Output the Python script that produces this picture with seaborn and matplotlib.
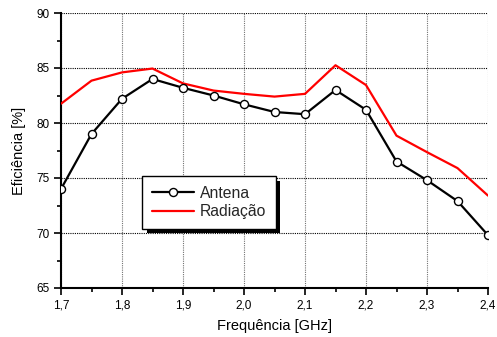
import numpy as np
import pandas as pd
import matplotlib
matplotlib.use("Agg")
import matplotlib.pyplot as plt
from matplotlib.ticker import MultipleLocator, FuncFormatter
from matplotlib.patches import Rectangle
import seaborn as sns

# Frequency sweep (GHz) and measured efficiencies (%)
freq = [1.70, 1.75, 1.80, 1.85, 1.90, 1.95, 2.00, 2.05, 2.10, 2.15, 2.20, 2.25, 2.30, 2.35, 2.40]
antena = [74.0, 79.0, 82.2, 84.0, 83.2, 82.5, 81.7, 81.0, 80.8, 83.0, 81.2, 76.5, 74.8, 72.9, 69.8]
radiacao = [81.75, 83.85, 84.6, 84.95, 83.6, 82.95, 82.65, 82.4, 82.65, 85.25, 83.45, 78.85, 77.35, 75.9, 73.4]

sns.set_theme(style="white")
plt.rcParams["font.family"] = ["Liberation Sans", "DejaVu Sans"]

fig = plt.figure(figsize=(4.97, 3.37), dpi=100)
ax = fig.add_axes([61 / 497, 1 - 288 / 337, (488 - 61) / 497, (288 - 13) / 337])

df = pd.DataFrame({"freq": freq, "Antena": antena, "Radiação": radiacao})

sns.lineplot(data=df, x="freq", y="Radiação", ax=ax, color="#ff0000",
             linewidth=1.6, label="Radiação", zorder=3)
sns.lineplot(data=df, x="freq", y="Antena", ax=ax, color="black",
             linewidth=1.6, marker="o", markersize=5.8, markerfacecolor="white",
             markeredgecolor="black", markeredgewidth=1.0, label="Antena", zorder=4)

ax.set_xlim(1.7, 2.4)
ax.set_ylim(65, 90)
ax.xaxis.set_major_locator(MultipleLocator(0.1))
ax.xaxis.set_minor_locator(MultipleLocator(0.05))
ax.yaxis.set_major_locator(MultipleLocator(5))
ax.yaxis.set_minor_locator(MultipleLocator(2.5))
ax.xaxis.set_major_formatter(FuncFormatter(lambda v, p: f"{v:.1f}".replace(".", ",")))
ax.yaxis.set_major_formatter(FuncFormatter(lambda v, p: f"{v:.0f}"))

ax.tick_params(axis="both", which="major", direction="out", length=5, width=1.2,
               color="black", labelsize=8.5, labelcolor="black", pad=3,
               bottom=True, left=True)
ax.tick_params(axis="both", which="minor", direction="out", length=3, width=1.2,
               color="black", bottom=True, left=True)

ax.grid(False)
ax.yaxis.grid(True, which="major", color="black", linestyle=(0, (1, 1)), linewidth=0.8)
ax.xaxis.grid(True, which="major", color="0.45", linestyle=(0, (1, 1)), linewidth=0.8)
ax.set_axisbelow(True)

for side in ("top", "right"):
    ax.spines[side].set_visible(False)
for side in ("left", "bottom"):
    ax.spines[side].set_color("black")
    ax.spines[side].set_linewidth(1.5)
ax.set_facecolor("white")

ax.set_xlabel("Frequência [GHz]", fontsize=10.5, color="black", labelpad=6)
ax.set_ylabel("Eficiência [%]", fontsize=10.5, color="black", labelpad=8)

handles, labels = ax.get_legend_handles_labels()
order = [labels.index("Antena"), labels.index("Radiação")]
leg = ax.legend([handles[i] for i in order], [labels[i] for i in order],
                loc="upper left", bbox_to_anchor=(142 / 497, 1 - 176 / 337),
                bbox_transform=fig.transFigure, prop={"size": 11.3}, frameon=True,
                fancybox=False, shadow=False,
                edgecolor="black", framealpha=1.0, borderpad=0.62,
                handlelength=2.7, handletextpad=0.35, labelspacing=0.22,
                borderaxespad=0)
leg.get_frame().set_linewidth(1.0)
leg.set_zorder(6)

# solid drop shadow under the legend box
fig.canvas.draw()
bb = leg.get_window_extent().transformed(ax.transAxes.inverted())
off_x = 4.5 / ax.bbox.width
off_y = 4.5 / ax.bbox.height
ax.add_patch(Rectangle((bb.x0 + off_x, bb.y0 - off_y), bb.width, bb.height,
                       transform=ax.transAxes, facecolor="black", edgecolor="none",
                       zorder=5.5, clip_on=False))

fig.savefig("out.png", dpi=100, facecolor="white")
